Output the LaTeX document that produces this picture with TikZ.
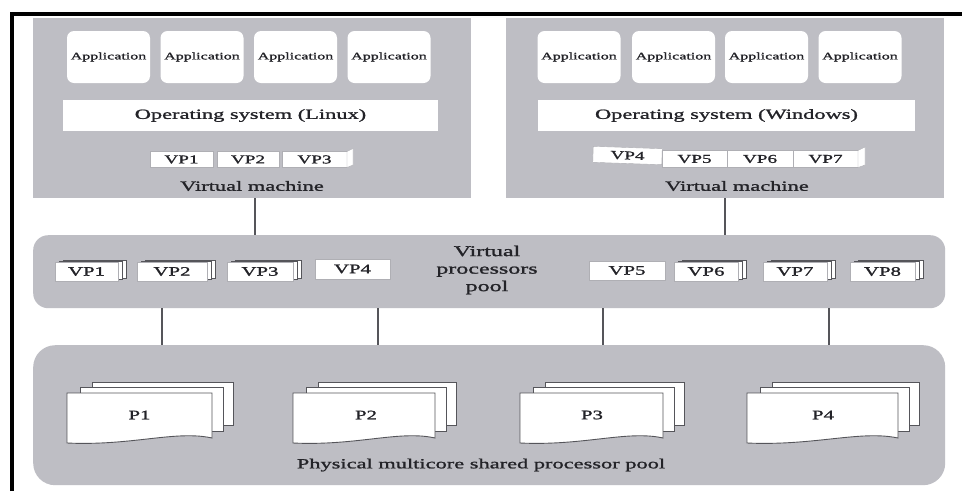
\documentclass[tikz,border=0pt]{standalone}
\usepackage{fontspec}
\setmainfont{Liberation Serif}[FakeStretch=1.6,FakeBold=1.4]
\usetikzlibrary{calc}
\definecolor{boxgray}{RGB}{190,190,196}
\definecolor{txt}{RGB}{35,35,40}
\definecolor{edgec}{RGB}{85,85,90}
\definecolor{lightedge}{RGB}{175,175,180}
\tikzset{
  vmbox/.style={fill=boxgray, draw=none, minimum width=438pt, minimum height=180pt, inner sep=0pt, anchor=north west},
  poolbox/.style={fill=boxgray, draw=none, minimum width=912pt, inner sep=0pt, anchor=north west},
  app/.style={fill=white, draw=none, rounded corners=7pt, minimum width=83pt, minimum height=52pt, inner sep=0pt, font=\fontsize{10}{12}\selectfont, text=txt},
  osbox/.style={fill=white, draw=none, minimum height=31pt, inner sep=0pt, font=\fontsize{14}{16}\selectfont, text=txt},
  vpv/.style={fill=white, draw=lightedge, line width=0.4pt, minimum height=16pt, inner sep=0pt, font=\fontsize{12}{14}\selectfont, text=txt},
  vpp/.style={fill=white, draw=lightedge, line width=0.4pt, minimum height=19pt, inner sep=0pt, font=\fontsize{13}{15}\selectfont, text=txt},
  lbl/.style={font=\fontsize{14}{16}\selectfont, text=txt, inner sep=0pt},
  side/.style={fill=white, draw=lightedge, line width=0.4pt},
  stackrect/.style={fill=white, draw=edgec, line width=0.5pt},
  sheet/.style={fill=white, draw=edgec, line width=0.9pt},
  ptext/.style={font=\fontsize{13}{15}\selectfont, text=txt, inner sep=0pt},
  conn/.style={draw=edgec, line width=1.4pt},
  frameline/.style={draw=black, line width=3.5pt}
}
\begin{document}
\begin{tikzpicture}[x=1pt,y=-1pt]
\useasboundingbox (0,0) rectangle (962,491);
\fill[white] (0,0) rectangle (962,491);
% frame
\draw[frameline] (12,491) -- (12,14) -- (962,14);

% virtual machines
\node[vmbox] (vm1) at (33,18) {};
\node[vmbox] (vm2) at (506,18) {};

% applications
\node[app] (a1) at (108.5,57) {Application};
\node[app] (a2) at (202,57) {Application};
\node[app] (a3) at (295.5,57) {Application};
\node[app] (a4) at (389,57) {Application};
\node[app] (a5) at (579,57) {Application};
\node[app] (a6) at (673.5,57) {Application};
\node[app] (a7) at (766.5,57) {Application};
\node[app] (a8) at (860,57) {Application};

% operating systems
\node[osbox, minimum width=375pt] (os1) at (250.5,115.5) {Operating system (Linux)};
\node[osbox, minimum width=377pt] (os2) at (726.5,115.5) {Operating system (Windows)};

% VPs in VM 1
\node[vpv, minimum width=63pt] (v1) at (181.5,159.5) {VP1};
\node[vpv, minimum width=62pt] (v2) at (248,159.5) {VP2};
\node[vpv, minimum width=65pt] (v3) at (314.5,159.5) {VP3};
\path[side] (347,151.5) -- (353,148.5) -- (353,165) -- (347,167.5) -- cycle;
\node[lbl] (vmt1) at (252,186) {Virtual machine};

% VPs in VM 2
\node[vpv, minimum width=69pt, rotate=-2] (v4) at (627.5,155.5) {VP4};
\node[vpv, minimum width=65pt, minimum height=17pt] (v5) at (694.5,159) {VP5};
\node[vpv, minimum width=66pt, minimum height=17pt] (v6) at (760,159) {VP6};
\node[vpv, minimum width=65pt, minimum height=17pt] (v7) at (825.5,159) {VP7};
\path[side] (858,150.5) -- (865,147) -- (865,165) -- (858,167.5) -- cycle;
\node[lbl] (vmt2) at (737,186) {Virtual machine};

% virtual processors pool
\node[poolbox, minimum height=73pt, rounded corners=15pt] (pool) at (33,235) {};
\node[font=\fontsize{15}{17.5}\selectfont, text=txt, align=center, inner sep=0pt] (poollbl) at (487,270) {Virtual\\processors\\pool};

% stacked backs
\foreach \l/\r in {55/118, 137/207, 227/293, 674/738, 763/827, 850/915}{
  \path[stackrect] (\l+8,260) rectangle (\r+8,278.5);
  \path[stackrect] (\l+4,261) rectangle (\r+4,279.5);
}
\node[vpp, minimum width=63pt] (p_vp1) at (86.5,271.5) {VP1};
\node[vpp, minimum width=70pt] (p_vp2) at (172,271.5) {VP2};
\node[vpp, minimum width=66pt] (p_vp3) at (260,271.5) {VP3};
\node[vpp, minimum width=75pt, minimum height=20pt] (p_vp4) at (352.5,269) {VP4};
\node[vpp, minimum width=76pt] (p_vp5) at (627,270.5) {VP5};
\node[vpp, minimum width=64pt] (p_vp6) at (706,271.5) {VP6};
\node[vpp, minimum width=64pt] (p_vp7) at (795,271.5) {VP7};
\node[vpp, minimum width=65pt] (p_vp8) at (882.5,271.5) {VP8};

% physical pool
\node[poolbox, minimum height=140pt, rounded corners=22pt] (phys) at (33,345) {};

% processor sheets
\foreach \L/\W in {67/145, 293/142, 520/143, 747/151}{
  \path[sheet] (\L+25,382) rectangle (\L+\W+21,425);
  \path[sheet] (\L+13,387) rectangle (\L+\W+11,431);
  \path[sheet] (\L,393) -- (\L+\W,393) -- (\L+\W,438)
     .. controls (\L+0.75*\W,430) and (\L+0.45*\W,446) .. (\L,443) -- cycle;
}
\node[ptext] (p1) at (139.5,415) {P1};
\node[ptext] (p2) at (366,415) {P2};
\node[ptext] (p3) at (592,415) {P3};
\node[ptext] (p4) at (823,415) {P4};
\node[lbl] (physlbl) at (481,465) {Physical multicore shared processor pool};

% connectors
\coordinate (k1) at (255,0);
\coordinate (k2) at (725,0);
\coordinate (c1) at (162,0);
\coordinate (c2) at (378,0);
\coordinate (c3) at (603,0);
\coordinate (c4) at (829,0);
\draw[conn] (vm1.south -| k1) -- (pool.north -| k1);
\draw[conn] (vm2.south -| k2) -- (pool.north -| k2);
\draw[conn] (pool.south -| c1) -- (phys.north -| c1);
\draw[conn] (pool.south -| c2) -- (phys.north -| c2);
\draw[conn] (pool.south -| c3) -- (phys.north -| c3);
\draw[conn] (pool.south -| c4) -- (phys.north -| c4);
\end{tikzpicture}
\end{document}
